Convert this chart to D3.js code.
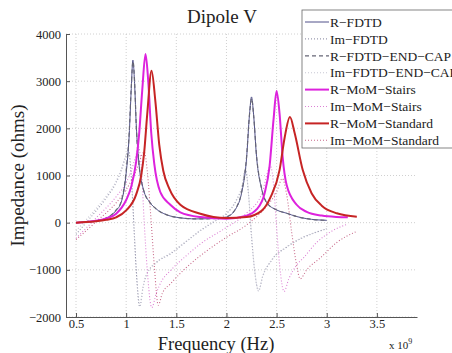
<!DOCTYPE html>
<html>
<head>
<meta charset="utf-8">
<script src="https://cdn.jsdelivr.net/npm/d3@7"></script>
<style>
  body { margin: 0; background: #fff; }
  text { font-family: "Liberation Serif", "DejaVu Serif", serif; fill: #222; }
</style>
</head>
<body>
<div id="chart"></div>
<script>
// frequency (x 10^9 Hz), impedance (ohms)
var rFdtd = [[0.5,0],[0.6,15],[0.7,40],[0.8,95],[0.9,260],[0.95,430],[1.0,1050],[1.03,1850],[1.05,2800],[1.067,3447],[1.085,2900],[1.1,2100],[1.13,1200],[1.17,720],[1.24,420],[1.3,290],[1.4,170],[1.5,115],[1.7,80],[1.9,90],[2.0,120],[2.1,320],[2.15,620],[2.2,1350],[2.23,2300],[2.25,2666],[2.27,2300],[2.3,1400],[2.35,720],[2.4,430],[2.5,270],[2.6,200],[2.7,130],[2.8,85],[2.9,60],[3.0,50]];
var imFdtd = [[0.5,-250],[0.6,0],[0.7,250],[0.8,520],[0.9,850],[0.95,1100],[1.0,1420],[1.023,1530],[1.05,1000],[1.08,-200],[1.1,-1000],[1.135,-1780],[1.17,-1350],[1.2,-1120],[1.3,-850],[1.44,-665],[1.6,-400],[1.74,-170],[1.9,50],[2.0,190],[2.1,480],[2.16,800],[2.19,1150],[2.22,600],[2.25,-300],[2.28,-1000],[2.32,-1450],[2.36,-1150],[2.45,-800],[2.6,-520],[2.75,-330],[2.9,-200],[3.0,-130]];
var rFdtdCap = [[0.5,0],[0.6,15],[0.7,42],[0.8,98],[0.9,270],[0.95,450],[1.0,1100],[1.03,1900],[1.05,2850],[1.068,3420],[1.087,2850],[1.1,2080],[1.13,1200],[1.17,720],[1.24,420],[1.3,290],[1.4,170],[1.5,115],[1.7,80],[1.9,90],[2.0,125],[2.1,330],[2.15,640],[2.2,1380],[2.23,2300],[2.252,2630],[2.27,2300],[2.3,1420],[2.35,730],[2.4,430],[2.5,270],[2.6,200],[2.7,130],[2.8,85],[2.9,60],[3.0,50]];
var imFdtdCap = [[0.5,-170],[0.6,60],[0.7,300],[0.8,560],[0.9,880],[0.95,1130],[1.0,1440],[1.025,1520],[1.05,1050],[1.08,-150],[1.1,-950],[1.137,-1760],[1.17,-1340],[1.2,-1110],[1.3,-840],[1.44,-650],[1.6,-390],[1.74,-160],[1.9,60],[2.0,200],[2.1,490],[2.16,810],[2.19,1140],[2.22,620],[2.25,-250],[2.28,-980],[2.322,-1430],[2.36,-1140],[2.45,-790],[2.6,-510],[2.75,-320],[2.9,-195],[3.0,-125]];
var rStairs = [[0.5,0],[0.6,15],[0.7,40],[0.8,90],[0.9,190],[1.0,480],[1.05,760],[1.1,1300],[1.13,1900],[1.16,2800],[1.193,3574],[1.22,3000],[1.25,1900],[1.28,1250],[1.34,650],[1.44,380],[1.54,220],[1.74,120],[2.0,85],[2.2,150],[2.3,280],[2.38,620],[2.43,1200],[2.47,2200],[2.5,2794],[2.53,2300],[2.56,1400],[2.6,800],[2.7,380],[2.8,230],[2.95,150],[3.1,120],[3.21,113]];
var imStairs = [[0.5,-330],[0.7,100],[0.9,550],[1.0,850],[1.05,1100],[1.1,1450],[1.12,1620],[1.15,1200],[1.18,0],[1.21,-1000],[1.255,-1800],[1.3,-1500],[1.35,-1250],[1.44,-1020],[1.6,-700],[1.74,-450],[2.0,-100],[2.2,200],[2.35,600],[2.44,1190],[2.47,800],[2.5,-100],[2.53,-900],[2.575,-1460],[2.62,-1200],[2.7,-900],[2.77,-740],[2.9,-420],[3.05,-180],[3.21,-30]];
var rStandard = [[0.5,0],[0.6,12],[0.7,30],[0.8,60],[0.9,113],[1.0,260],[1.1,600],[1.15,1000],[1.18,1500],[1.21,2300],[1.253,3220],[1.29,2600],[1.33,1650],[1.37,1100],[1.43,720],[1.54,380],[1.74,190],[2.0,100],[2.2,120],[2.35,250],[2.44,540],[2.53,1120],[2.58,1800],[2.633,2240],[2.68,1900],[2.76,1120],[2.85,620],[2.95,360],[3.1,200],[3.3,128]];
var imStandard = [[0.5,-360],[0.7,20],[0.9,420],[1.0,700],[1.1,1100],[1.18,1500],[1.21,1100],[1.25,0],[1.28,-900],[1.32,-1750],[1.36,-1500],[1.44,-1300],[1.6,-950],[1.74,-700],[2.0,-310],[2.2,-50],[2.4,350],[2.5,650],[2.557,936],[2.6,600],[2.65,-200],[2.7,-900],[2.735,-1190],[2.8,-1000],[2.94,-740],[3.1,-420],[3.3,-185]];

var xTicks = [0.5, 1, 1.5, 2, 2.5, 3, 3.5];
var yTicks = [-2000, -1000, 0, 1000, 2000, 3000, 4000];

var series = [
    {name: "R\u2212FDTD", data: rFdtd, color: "#50508a", width: 1, dash: null},
    {name: "Im\u2212FDTD", data: imFdtd, color: "#9a9ab0", width: 1, dash: "1,2"},
    {name: "R\u2212FDTD\u2212END\u2212CAP", data: rFdtdCap, color: "#666676", width: 1.2, dash: "4,3"},
    {name: "Im\u2212FDTD\u2212END\u2212CAP", data: imFdtdCap, color: "#c8c8d4", width: 1, dash: "1,2"},
    {name: "R\u2212MoM\u2212Stairs", data: rStairs, color: "#dd22dd", width: 2, dash: null},
    {name: "Im\u2212MoM\u2212Stairs", data: imStairs, color: "#dc80d4", width: 1, dash: "1,2"},
    {name: "R\u2212MoM\u2212Standard", data: rStandard, color: "#c62424", width: 2, dash: null},
    {name: "Im\u2212MoM\u2212Standard", data: imStandard, color: "#c86a8a", width: 1, dash: "1,2"}
];

var width = 452, height = 353;
var margin = {left: 66, right: 35, top: 34, bottom: 36};

var svg = d3.select("#chart")
    .append("svg")
    .attr("width", width)
    .attr("height", height);

var x = d3.scaleLinear()
    .domain([0.4, 3.9])
    .range([margin.left, width - margin.right]);

var y = d3.scaleLinear()
    .domain([-2000, 4000])
    .range([height - margin.bottom, margin.top]);

// grid
svg.append("g")
    .selectAll("line")
    .data(xTicks)
    .enter()
    .append("line")
    .attr("x1", function(d){ return x(d); })
    .attr("x2", function(d){ return x(d); })
    .attr("y1", y(-2000))
    .attr("y2", y(4000))
    .attr("stroke", "#c4c4c4")
    .attr("stroke-width", 0.8)
    .attr("stroke-dasharray", "1,2");

svg.append("g")
    .selectAll("line")
    .data(yTicks)
    .enter()
    .append("line")
    .attr("x1", x(0.4))
    .attr("x2", x(3.9))
    .attr("y1", function(d){ return y(d); })
    .attr("y2", function(d){ return y(d); })
    .attr("stroke", "#c4c4c4")
    .attr("stroke-width", 0.8)
    .attr("stroke-dasharray", "1,2");

// axes
var xAxis = d3.axisBottom(x)
    .tickValues(xTicks)
    .tickSizeInner(-4)
    .tickSizeOuter(0)
    .tickPadding(2)
    .tickFormat(function(d){ return d; });

var yAxis = d3.axisLeft(y)
    .tickValues(yTicks)
    .tickSizeInner(-4)
    .tickSizeOuter(0)
    .tickPadding(5)
    .tickFormat(function(d){ return d < 0 ? "\u2212" + Math.abs(d) : d; });

var gx = svg.append("g")
    .attr("transform", "translate(0," + y(-2000) + ")")
    .call(xAxis);

var gy = svg.append("g")
    .attr("transform", "translate(" + x(0.4) + ",0)")
    .call(yAxis);

[gx, gy].forEach(function(g){
    g.select(".domain").attr("stroke", "#555");
    g.selectAll(".tick line").attr("stroke", "#555");
    g.selectAll("text")
        .style("font-family", "'Liberation Serif', serif")
        .style("font-size", "12.5px")
        .attr("fill", "#222");
});

// lines
var line = d3.line()
    .x(function(d){ return x(d[0]); })
    .y(function(d){ return y(d[1]); })
    .curve(d3.curveMonotoneX);

var drawOrder = [1, 3, 5, 7, 0, 2, 4, 6];
drawOrder.forEach(function(i){
    var s = series[i];
    svg.append("path")
        .datum(s.data)
        .attr("fill", "none")
        .attr("stroke", s.color)
        .attr("stroke-width", s.dash === "1,2" ? 1.1 : s.width)
        .attr("stroke-dasharray", s.dash)
        .attr("d", line);
});

// titles
svg.append("text")
    .attr("x", 222)
    .attr("y", 23)
    .attr("text-anchor", "middle")
    .style("font-size", "19px")
    .text("Dipole V");

svg.append("text")
    .attr("transform", "translate(24," + y(1000) + ") rotate(-90)")
    .attr("text-anchor", "middle")
    .style("font-size", "19px")
    .text("Impedance (ohms)");

svg.append("text")
    .attr("x", 216)
    .attr("y", 350)
    .attr("text-anchor", "middle")
    .style("font-size", "18.5px")
    .text("Frequency (Hz)");

var expo = svg.append("text")
    .attr("x", 389)
    .attr("y", 349)
    .style("font-size", "11px");
expo.append("tspan").text("x 10");
expo.append("tspan").attr("dy", -5).style("font-size", "8px").text("9");

// legend
var legend = svg.append("g")
    .attr("transform", "translate(302,10)");

legend.append("rect")
    .attr("width", 160)
    .attr("height", 138)
    .attr("fill", "#fff")
    .attr("stroke", "#666")
    .attr("stroke-width", 0.8);

var items = legend.selectAll(".item")
    .data(series)
    .enter()
    .append("g")
    .attr("class", "item")
    .attr("transform", function(d, i){ return "translate(0," + (12 + i * 16.9) + ")"; });

items.append("line")
    .attr("x1", 3)
    .attr("x2", 27)
    .attr("stroke", function(d){ return d.color; })
    .attr("stroke-width", function(d){ return d.dash === "1,2" ? 1.1 : d.width; })
    .attr("stroke-dasharray", function(d){ return d.dash; });

items.append("text")
    .attr("x", 28)
    .attr("dy", "0.35em")
    .style("font-size", "13.5px")
    .text(function(d){ return d.name; });
</script>
</body>
</html>
